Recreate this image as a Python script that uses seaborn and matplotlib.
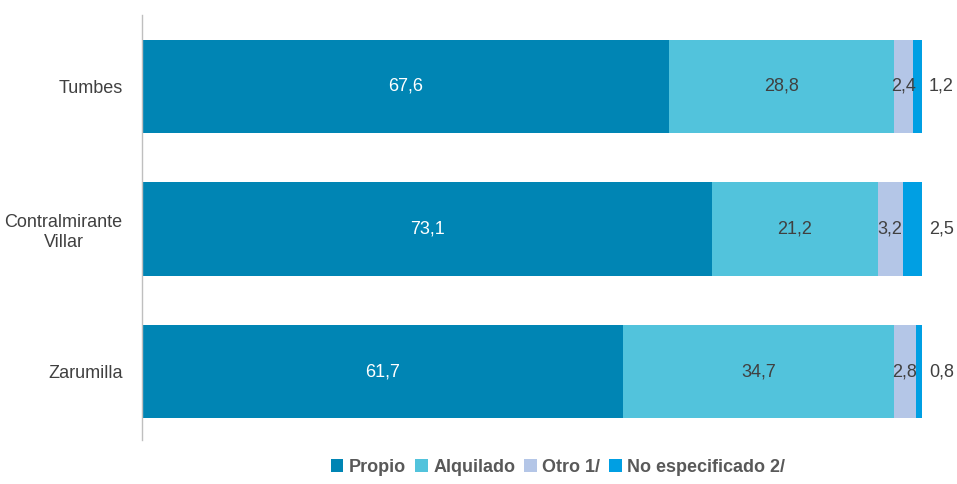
import matplotlib
matplotlib.use("Agg")
import matplotlib.pyplot as plt
import matplotlib.font_manager as fm
from matplotlib.patches import Patch
import numpy as np
import pandas as pd
import seaborn as sns

provincias = ["Tumbes", "Contralmirante\nVillar", "Zarumilla"]
series = ["Propio", "Alquilado", "Otro 1/", "No especificado 2/"]
propio = [67.6, 73.1, 61.7]
alquilado = [28.8, 21.2, 34.7]
otro = [2.4, 3.2, 2.8]
no_especificado = [1.2, 2.5, 0.8]
colores = ["#0085B4", "#52C3DC", "#B4C6E7", "#009FE3"]

sns.set_theme(style="white")
names = {f.name for f in fm.fontManager.ttflist}
base_font = "Liberation Sans Narrow" if "Liberation Sans Narrow" in names else "Liberation Sans"
plt.rcParams["font.family"] = [base_font, "DejaVu Sans"]

valores = np.array([propio, alquilado, otro, no_especificado])
acumulado = np.cumsum(valores, axis=0)

fig = plt.figure(figsize=(9.57, 4.84), dpi=100)
ax = fig.add_axes([142 / 957, 1 - 440 / 484, 780 / 957, 425 / 484])

# stacked bars: draw cumulative totals from the outermost segment inward
for i in range(len(series) - 1, -1, -1):
    df = pd.DataFrame({"provincia": provincias, "valor": acumulado[i]})
    sns.barplot(data=df, x="valor", y="provincia", orient="h", color=colores[i],
                width=0.655, saturation=1, ax=ax, linewidth=0)

texto = "#404040"
for j in range(len(provincias)):
    for i in range(len(series)):
        inicio = acumulado[i][j] - valores[i][j]
        etiqueta = f"{valores[i][j]:.1f}".replace(".", ",")
        if i == len(series) - 1:
            ax.text(acumulado[i][j] + 0.9, j, etiqueta, ha="left", va="center",
                    fontsize=13, color=texto)
        else:
            ax.text(inicio + valores[i][j] / 2, j, etiqueta, ha="center", va="center",
                    fontsize=13, color="white" if i == 0 else texto)

ax.set_xlim(0, 100)
ax.set_ylim(2.48, -0.5)
ax.set_xlabel("")
ax.set_ylabel("")
ax.set_xticks([])
ax.tick_params(axis="y", length=0, pad=14, labelsize=13, labelcolor=texto)
for lab in ax.get_yticklabels():
    lab.set_multialignment("center")
for s in ["top", "right", "bottom"]:
    ax.spines[s].set_visible(False)
ax.spines["left"].set_color("#BFBFBF")
ax.spines["left"].set_linewidth(1)

handles = [Patch(facecolor=c, edgecolor="none", label=s) for c, s in zip(colores, series)]
leg = fig.legend(handles=handles, loc="center", bbox_to_anchor=(558 / 957, 1 - 467 / 484),
                 ncol=4, frameon=False, handlelength=0.7, handleheight=0.7,
                 handletextpad=0.3, columnspacing=0.5,
                 prop={"weight": "bold", "size": 13})
for t in leg.get_texts():
    t.set_color("#595959")

fig.savefig("out.png", dpi=100)
